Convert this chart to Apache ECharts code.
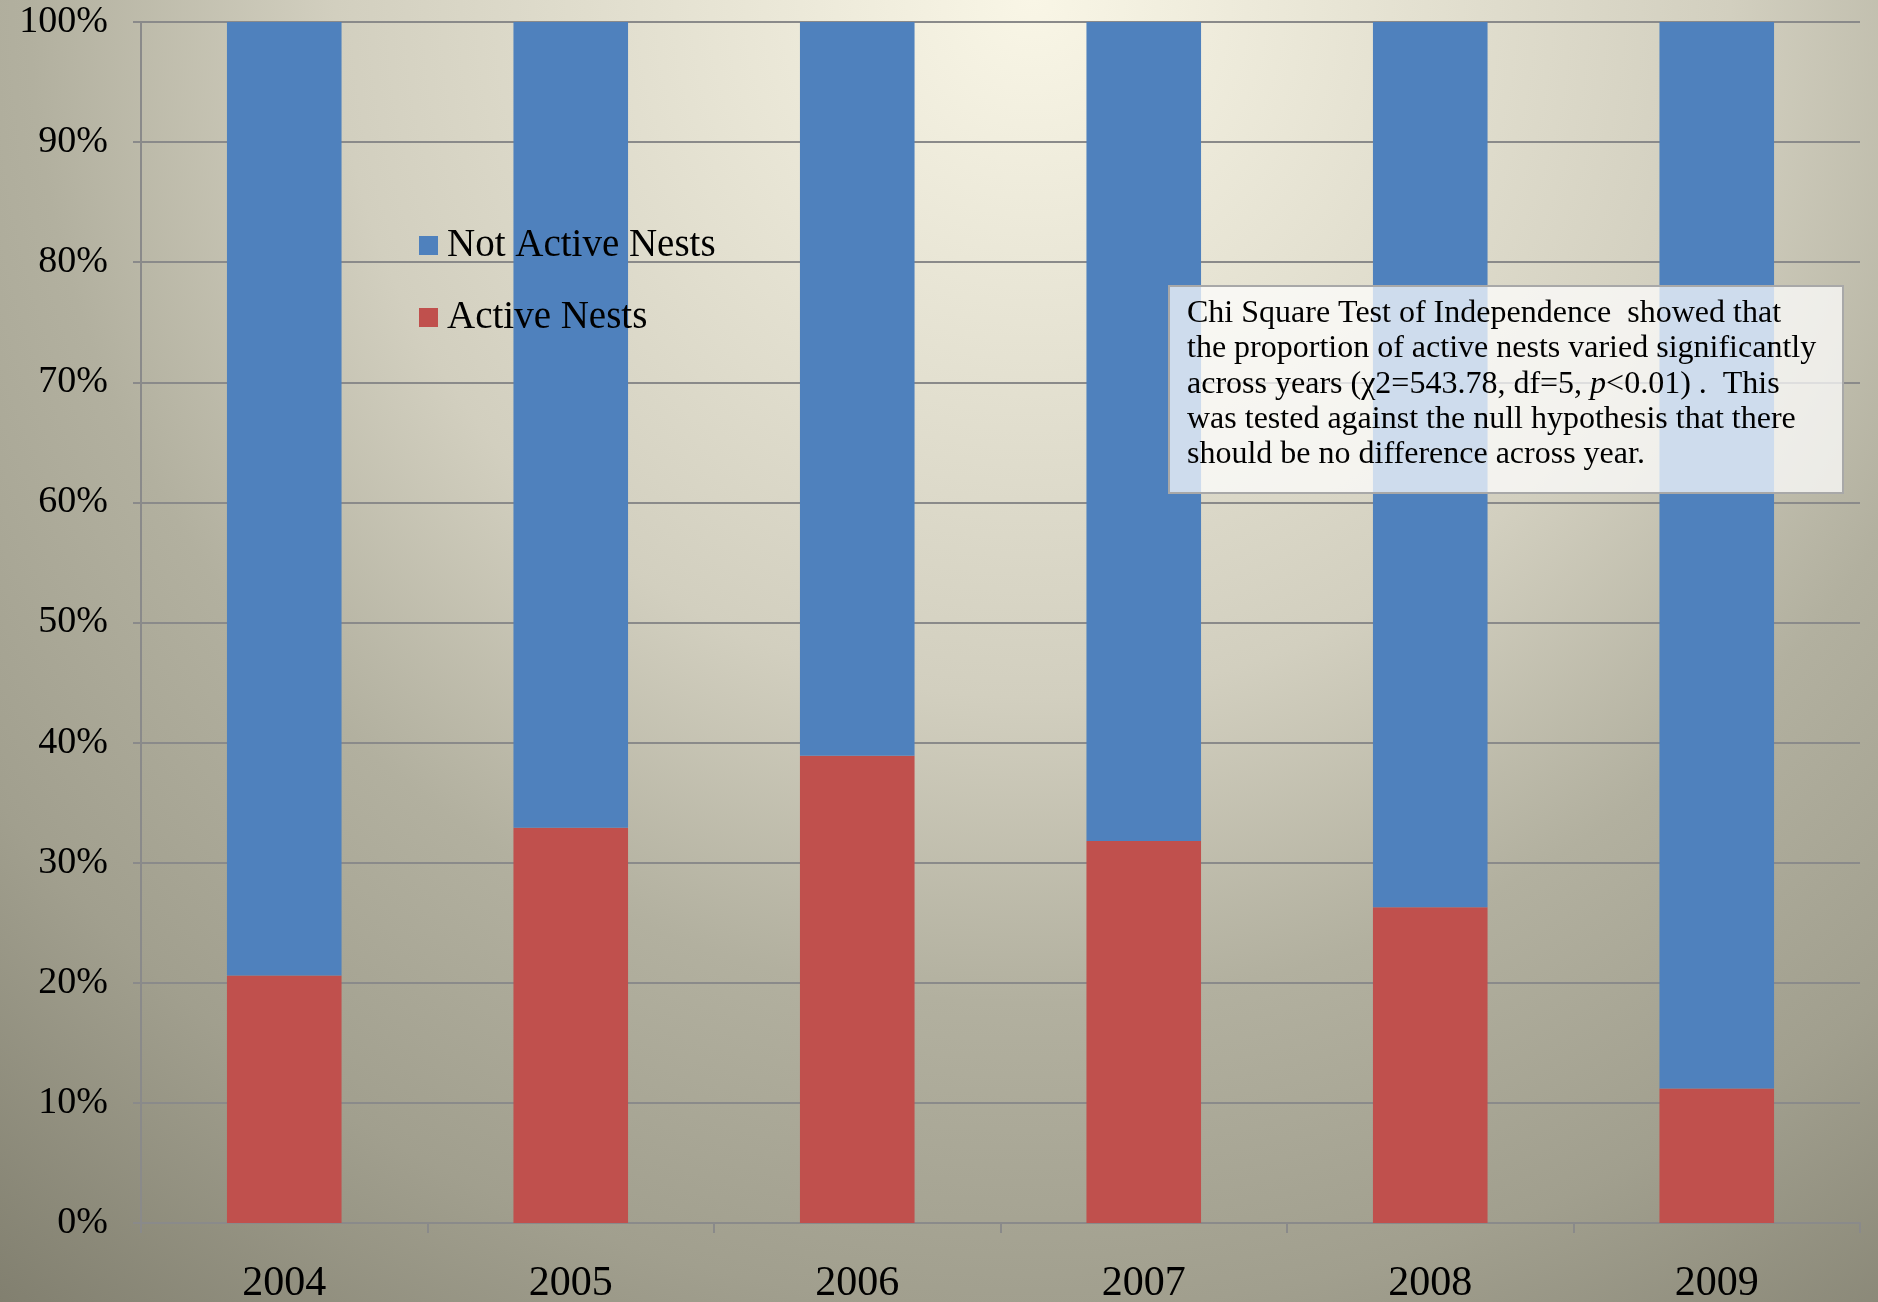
<!DOCTYPE html>
<html>
<head>
<meta charset="utf-8">
<script src="https://cdn.jsdelivr.net/npm/echarts@6/dist/echarts.min.js"></script>
<style>
html,body{margin:0;padding:0;width:1878px;height:1302px;overflow:hidden;}
#chart{width:1878px;height:1302px;}
</style>
</head>
<body>
<div id="chart"></div>
<script>
const years = ['2004', '2005', '2006', '2007', '2008', '2009'];
const activeNests = [20.6, 32.9, 38.9, 31.8, 26.3, 11.2];
const notActiveNests = [79.4, 67.1, 61.1, 68.2, 73.7, 88.8];
const yTicks = [0, 10, 20, 30, 40, 50, 60, 70, 80, 90, 100];
const noteLines = [
  'Chi Square Test of Independence  showed that',
  'the proportion of active nests varied significantly',
  'across years (\u03c72=543.78, df=5, {i|p}<0.01) .  This',
  'was tested against the null hypothesis that there',
  'should be no difference across year.'
];

const FONT = '"Liberation Serif", "DejaVu Serif", serif';
const chart = echarts.init(document.getElementById('chart'), null, {renderer: 'canvas'});
const option = {
  backgroundColor: {
    type: 'radial', x: 0.55, y: 0.0, r: 1.306,
    colorStops: [
      {offset: 0, color: '#f9f6e6'},
      {offset: 0.41, color: '#d2cfbf'},
      {offset: 0.59, color: '#b2b09f'},
      {offset: 0.77, color: '#a19f8e'},
      {offset: 1, color: '#7e7c6c'}
    ]
  },
  animation: false,
  grid: {left: 141, right: 18, top: 22, bottom: 79, containLabel: false, outerBoundsMode: 'none'},
  legend: {
    orient: 'vertical',
    left: 414, top: 221,
    itemWidth: 19, itemHeight: 19, itemGap: 33,
    data: ['Not Active Nests', 'Active Nests'],
    textStyle: {fontFamily: FONT, fontSize: 39, color: '#000', padding: [0, 0, 0, 4]},
    icon: 'rect'
  },
  xAxis: {
    type: 'category',
    data: years,
    axisLine: {show: true, lineStyle: {color: '#8a8a8a', width: 2}},
    axisTick: {show: true, length: 10, interval: 0, lineStyle: {color: '#8a8a8a', width: 2}},
    axisLabel: {fontFamily: FONT, fontSize: 42, color: '#000', margin: 40}
  },
  yAxis: {
    type: 'value',
    min: yTicks[0], max: yTicks[yTicks.length - 1], interval: 10,
    axisLine: {show: true, lineStyle: {color: '#8a8a8a', width: 2}},
    axisTick: {show: true, length: 8, lineStyle: {color: '#8a8a8a', width: 2}},
    axisLabel: {fontFamily: FONT, fontSize: 38, color: '#000', margin: 33, formatter: '{value}%'},
    splitLine: {show: true, lineStyle: {color: '#8a8a8a', width: 2}}
  },
  series: [
    {
      name: 'Active Nests', type: 'bar', stack: 'total', barWidth: '40%',
      data: activeNests, itemStyle: {color: '#c0504d'}
    },
    {
      name: 'Not Active Nests', type: 'bar', stack: 'total', barWidth: '40%',
      data: notActiveNests, itemStyle: {color: '#4f81bd'}
    }
  ],
  graphic: [
    {
      type: 'rect', left: 1168, top: 285, z: 100,
      shape: {width: 674, height: 207},
      style: {fill: 'rgba(255,255,255,0.72)', stroke: '#a8a8a8', lineWidth: 2}
    },
    {
      type: 'text', left: 1187, top: 296, z: 101,
      style: {
        text: noteLines.join('\n'),
        font: '32px ' + FONT,
        fill: '#000',
        lineHeight: 35.3,
        rich: {i: {fontStyle: 'italic', fontSize: 32, fontFamily: FONT, lineHeight: 35.3}}
      }
    }
  ]
};
chart.setOption(option);
</script>
</body>
</html>
